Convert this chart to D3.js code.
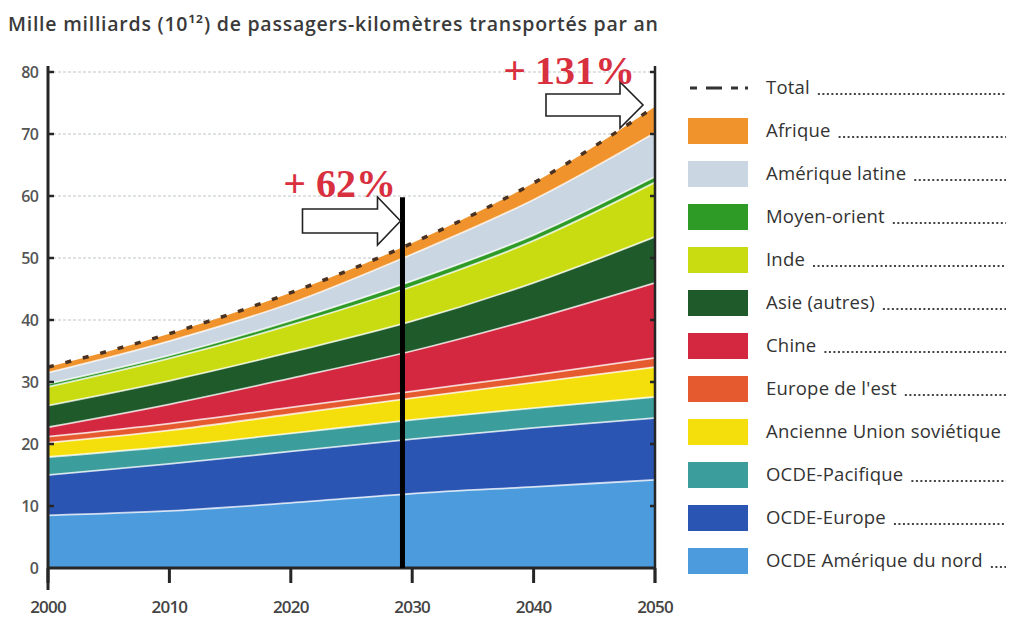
<!DOCTYPE html>
<html>
<head>
<meta charset="utf-8">
<script src="https://cdn.jsdelivr.net/npm/d3@7"></script>
<style>
  body { margin: 0; background: #fff; }
</style>
</head>
<body>
<div id="container"></div>
<script>
const years = [2000, 2010, 2020, 2030, 2040, 2050];
// valeurs par région (mille milliards pkm), de bas en haut de la pile
const ocdeAmNord = [8.5, 9.2, 10.5, 12.0, 13.1, 14.2];
const ocdeEurope = [6.5, 7.6, 8.3, 8.8, 9.5, 10.0];
const ocdePacifique = [2.9, 2.8, 2.9, 3.1, 3.2, 3.4];
const exUrss = [2.3, 2.6, 3.1, 3.5, 4.1, 4.8];
const europeEst = [1.0, 1.1, 1.1, 1.1, 1.2, 1.5];
const chine = [1.5, 3.1, 4.7, 6.5, 9.1, 12.1];
const asieAutres = [3.5, 3.8, 4.2, 4.8, 5.8, 7.4];
const inde = [3.0, 3.6, 4.4, 5.6, 6.8, 8.8];
const moyenOrient = [0.5, 0.5, 0.7, 0.9, 0.9, 0.9];
const ameriqueLatine = [1.8, 2.3, 2.8, 4.3, 5.7, 7.1];
const afrique = [0.9, 1.2, 1.7, 1.8, 2.7, 4.2];

const regionNames = ["OCDE Amérique du nord", "OCDE-Europe", "OCDE-Pacifique", "Ancienne Union soviétique",
  "Europe de l'est", "Chine", "Asie (autres)", "Inde", "Moyen-orient", "Amérique latine", "Afrique"];
const regionValues = [ocdeAmNord, ocdeEurope, ocdePacifique, exUrss, europeEst, chine, asieAutres, inde,
  moyenOrient, ameriqueLatine, afrique];
const regionColors = ["#4c9bdc", "#2a55b3", "#3b9d9c", "#f4df0c", "#e65a30", "#d3283f", "#1f5b2a",
  "#c9dc12", "#2f9b27", "#cad6e2", "#f0932c"];
const yTicks = [0, 10, 20, 30, 40, 50, 60, 70, 80];
const xTicks = [2000, 2010, 2020, 2030, 2040, 2050];

const w = 1012, h = 620;
const sans = "'Open Sans', sans-serif";
const serif = "'Liberation Serif', 'DejaVu Serif', serif";
const svg = d3.select("#container").append("svg").attr("width", w).attr("height", h);

const x = d3.scaleLinear().domain([2000, 2050]).range([48, 655]);
const y = d3.scaleLinear().domain([0, 80]).range([568, 72]);

const table = years.map((yr, i) => {
  const row = { year: yr };
  regionNames.forEach((n, k) => row[n] = regionValues[k][i]);
  return row;
});
const stacked = d3.stack().keys(regionNames)(table);

// titre
svg.append("text").attr("x", 8).attr("y", 31)
   .style("font-family", sans).attr("font-size", 19.5).attr("font-weight", 600).attr("fill", "#3a3a3a")
   .attr("textLength", 650).attr("lengthAdjust", "spacing")
   .text("Mille milliards (10¹²) de passagers-kilomètres transportés par an");

// grille
svg.append("g").selectAll("line").data(yTicks.filter(d => d > 0)).enter().append("line")
   .attr("x1", x(2000)).attr("x2", x(2050))
   .attr("y1", d => y(d)).attr("y2", d => y(d))
   .attr("stroke", "#bfc5c7").attr("stroke-width", 1.2).attr("stroke-dasharray", "3,2");

const area = d3.area()
   .x(d => x(d.data.year)).y0(d => y(d[0])).y1(d => y(d[1]))
   .curve(d3.curveMonotoneX);
const topLine = d3.line()
   .x(d => x(d.data.year)).y(d => y(d[1]))
   .curve(d3.curveMonotoneX);

svg.append("g").selectAll("path").data(stacked).enter().append("path")
   .attr("d", area).attr("fill", (d, i) => regionColors[i]);
svg.append("g").selectAll("path").data(stacked.slice(0, -1)).enter().append("path")
   .attr("d", topLine).attr("fill", "none")
   .attr("stroke", "#ffffff").attr("stroke-opacity", 0.75).attr("stroke-width", 1.8);

// total
svg.append("path").datum(stacked[stacked.length - 1]).attr("d", topLine)
   .attr("fill", "none").attr("stroke", "#4a3222").attr("stroke-width", 3.5)
   .attr("stroke-dasharray", "6,12");

// axes
const axisCol = "#262626";
svg.append("line").attr("x1", x(2000)).attr("x2", x(2000)).attr("y1", 66).attr("y2", 590)
   .attr("stroke", axisCol).attr("stroke-width", 3);
svg.append("line").attr("x1", x(2050)).attr("x2", x(2050)).attr("y1", 66).attr("y2", 583)
   .attr("stroke", axisCol).attr("stroke-width", 2.5);
svg.append("line").attr("x1", x(2000)).attr("x2", x(2050)).attr("y1", y(0)).attr("y2", y(0))
   .attr("stroke", axisCol).attr("stroke-width", 3);
svg.append("g").selectAll("line").data(xTicks).enter().append("line")
   .attr("x1", d => x(d)).attr("x2", d => x(d)).attr("y1", y(0)).attr("y2", y(0) + 15)
   .attr("stroke", axisCol).attr("stroke-width", 3);
svg.append("g").selectAll("line").data(yTicks.slice(1)).enter().append("line")
   .attr("x1", x(2000)).attr("x2", x(2000) + 6).attr("y1", d => y(d)).attr("y2", d => y(d))
   .attr("stroke", axisCol).attr("stroke-width", 2.5);
svg.append("g").selectAll("line").data(yTicks.slice(1)).enter().append("line")
   .attr("x1", x(2050) - 5).attr("x2", x(2050)).attr("y1", d => y(d)).attr("y2", d => y(d))
   .attr("stroke", axisCol).attr("stroke-width", 2.5);

svg.append("g").selectAll("text").data(yTicks).enter().append("text")
   .attr("x", 38).attr("y", d => y(d) + 6).attr("text-anchor", "end")
   .style("font-family", sans).attr("font-size", 16).attr("font-weight", 600).attr("fill", "#555")
   .attr("letter-spacing", -0.8).text(d => d);
svg.append("g").selectAll("text").data(xTicks).enter().append("text")
   .attr("x", d => x(d)).attr("y", 613).attr("text-anchor", "middle")
   .style("font-family", sans).attr("font-size", 17).attr("font-weight", 600).attr("fill", "#444")
   .attr("letter-spacing", -0.8).text(d => d);

// annotations
const markYear = 2029.2;
svg.append("line").attr("x1", x(markYear)).attr("x2", x(markYear)).attr("y1", y(59.8)).attr("y2", y(0))
   .attr("stroke", "#000").attr("stroke-width", 5);

function arrow(tipX, tipY, bodyLen, headLen, bodyH, headH) {
  const bx = tipX - headLen;
  return "M" + (bx - bodyLen) + "," + (tipY - bodyH / 2) +
    "L" + bx + "," + (tipY - bodyH / 2) + "L" + bx + "," + (tipY - headH / 2) +
    "L" + tipX + "," + tipY + "L" + bx + "," + (tipY + headH / 2) +
    "L" + bx + "," + (tipY + bodyH / 2) + "L" + (bx - bodyLen) + "," + (tipY + bodyH / 2) + "Z";
}
svg.append("path").attr("d", arrow(x(markYear) - 2, 221, 75, 23, 24, 48))
   .attr("fill", "#fff").attr("stroke", "#222").attr("stroke-width", 1.6);
svg.append("path").attr("d", arrow(643, 105, 74, 23, 22, 46))
   .attr("fill", "#fff").attr("stroke", "#222").attr("stroke-width", 1.6);

function growthLabel(xEnd, yBase, size, gap, value) {
  const t = svg.append("text").attr("x", xEnd).attr("y", yBase).attr("text-anchor", "end")
     .style("font-family", serif).attr("font-weight", "bold")
     .attr("font-size", size).attr("fill", "#d9303f");
  t.append("tspan").text("+");
  t.append("tspan").attr("dx", gap).text(value);
}
growthLabel(396, 197, 40, 10, "62%");
growthLabel(635, 84, 40, 9, "131%");

// légende
const legendNames = ["Total"].concat(regionNames.slice().reverse());
const legendColors = [null].concat(regionColors.slice().reverse());
const lg = svg.append("g");
legendNames.forEach((name, i) => {
  const cy = 88 + i * 43;
  if (i === 0) {
    lg.append("line").attr("x1", 690).attr("x2", 748).attr("y1", cy).attr("y2", cy)
      .attr("stroke", "#333").attr("stroke-width", 3).attr("stroke-dasharray", "7,9,16,9,7");
  } else {
    lg.append("rect").attr("x", 688).attr("y", cy - 13).attr("width", 60).attr("height", 26)
      .attr("fill", legendColors[i]);
  }
  const t = lg.append("text").attr("x", 766).attr("y", cy + 6)
    .style("font-family", sans).attr("font-size", 18.5).attr("font-weight", 500).attr("fill", "#333")
    .attr("letter-spacing", 0.2).text(name);
  const end = 766 + t.node().getComputedTextLength();
  if (end < 998) {
    lg.append("line").attr("x1", end + 8).attr("x2", 1006).attr("y1", cy + 6).attr("y2", cy + 6)
      .attr("stroke", "#444").attr("stroke-width", 2).attr("stroke-dasharray", "2,2.5");
  }
});
</script>
</body>
</html>
